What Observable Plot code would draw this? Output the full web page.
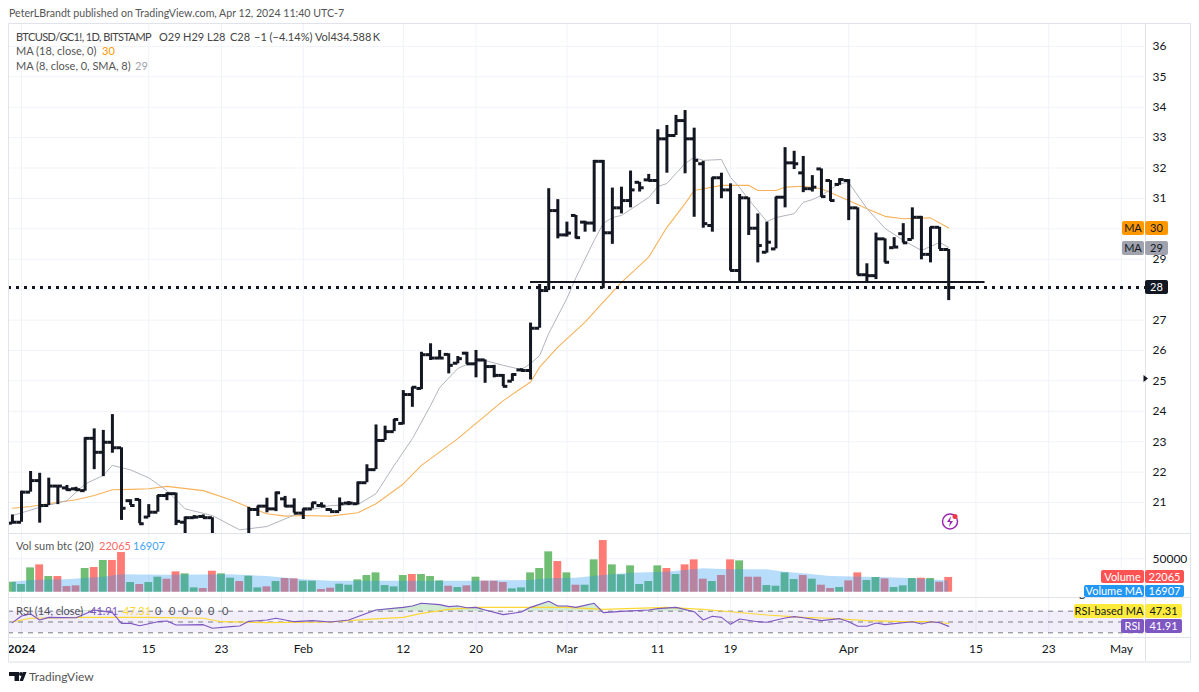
<!DOCTYPE html>
<html><head><meta charset="utf-8">
<script src="https://cdn.jsdelivr.net/npm/d3@7"></script>
<script src="https://cdn.jsdelivr.net/npm/@observablehq/plot@0.6"></script>
<style>
html,body{margin:0;padding:0;background:#fff;width:1199px;height:692px;overflow:hidden;font-family:Lato,sans-serif;color:#131722}
#stage{position:relative;width:1199px;height:692px}
#stage svg.pane{position:absolute;left:0;display:block;background:transparent}
.t{position:absolute;white-space:pre;font-size:11px;line-height:14px}
.box{position:absolute;font-size:11px;text-align:center;border-radius:2px;color:#fff;white-space:nowrap}
.line{position:absolute;background:#e0e3eb}
</style></head>
<body><div id="stage"></div>
<script>
// Bar days: index 0 is 2024-01-01, -1 is 2023-12-31
const opens=[20.32,20.35,21.34,21.72,20.90,21.54,21.48,21.45,21.39,23.11,
22.65,22.98,22.80,21.06,21.10,20.52,20.68,21.23,21.29,20.35,
20.50,20.54,20.50,19.85,19.50,19.60,19.80,20.77,20.88,20.79,
21.12,20.88,20.65,20.79,20.90,20.77,20.70,20.98,20.96,21.65,
22.08,23.04,23.33,23.60,24.55,24.75,25.86,25.75,25.87,25.58,
25.91,25.56,25.69,25.47,25.18,24.99,25.36,25.34,26.73,27.97,
30.60,29.80,30.44,30.22,30.19,32.22,29.87,30.69,30.93,31.53,
31.61,31.59,32.96,33.07,33.56,32.96,32.14,30.11,31.68,31.28,
28.63,31.02,30.02,29.23,29.34,31.04,32.17,31.84,31.32,31.97,
31.59,31.46,31.59,30.69,28.49,28.46,29.67,29.38,29.84,29.65,
30.38,29.16,30.05,29.32];
const highs=[20.59,21.37,22.02,21.96,21.80,21.54,21.56,21.50,23.13,23.42,
23.37,23.89,22.80,21.09,21.10,20.93,21.23,21.31,21.31,20.52,
20.57,20.59,20.50,19.90,19.80,19.90,20.84,20.88,21.14,21.34,
21.20,21.12,20.79,20.99,20.99,20.79,21.15,21.03,21.67,22.24,
23.55,23.51,23.73,24.68,24.79,25.94,26.22,26.00,25.89,25.80,
25.94,26.00,25.69,25.51,25.21,25.23,25.40,26.90,28.17,31.32,
30.96,30.22,30.44,30.25,32.25,32.25,31.34,31.37,31.90,31.53,
31.79,33.26,33.40,33.73,33.89,33.31,32.22,31.68,31.83,31.48,
31.13,31.02,30.49,30.22,31.04,32.67,32.55,32.38,31.75,31.97,
31.59,31.65,31.62,30.69,28.85,29.86,29.67,29.71,30.17,30.69,
30.41,30.05,30.05,29.32];
const lows=[20.30,20.35,21.34,20.32,20.90,20.93,21.37,21.37,21.37,22.08,
21.85,22.62,20.41,20.90,20.30,20.50,20.68,21.06,20.24,19.90,
20.46,20.48,19.70,19.40,19.30,19.50,19.70,20.54,20.66,20.70,
20.84,20.65,20.44,20.79,20.84,20.70,20.70,20.90,20.92,21.65,
22.08,23.04,23.33,23.55,24.13,24.71,25.67,25.73,25.23,25.56,
25.54,25.10,24.92,25.10,24.81,24.98,25.31,25.03,26.73,27.97,
29.67,29.73,29.67,29.89,29.89,28.03,29.49,30.49,30.69,31.21,
31.56,30.80,31.83,33.07,31.81,30.38,30.02,29.89,30.99,28.61,
28.24,29.78,28.88,29.20,29.34,30.69,31.95,31.19,31.21,31.04,
30.90,31.43,30.27,28.47,28.21,28.33,28.88,29.38,29.53,29.64,
28.98,28.88,29.32,27.64];
const closes=[20.35,21.34,21.72,20.90,21.54,21.54,21.42,21.42,23.11,22.65,
22.98,22.80,20.81,20.90,20.30,20.68,21.23,21.29,20.38,20.50,
20.52,20.50,19.85,19.50,19.60,19.80,20.77,20.88,20.79,21.32,
20.88,20.65,20.79,20.99,20.88,20.70,20.96,20.98,21.65,22.08,
23.04,23.33,23.73,24.55,24.79,25.86,25.75,25.75,25.51,25.73,
25.56,25.69,25.47,25.18,24.82,25.21,25.34,26.73,27.97,30.60,
29.80,29.86,29.71,30.19,32.22,29.87,30.69,30.93,31.28,31.35,
31.59,32.96,33.07,33.56,32.96,32.25,30.17,31.68,31.28,28.63,
31.02,30.02,29.45,29.56,31.04,32.17,32.14,31.32,31.37,31.06,
30.93,31.62,30.69,28.49,28.46,29.67,28.90,29.40,29.54,30.38,
29.16,30.05,29.32,28.07];
const volumes=[14970,11480,36430,40920,23450,23450,8480,9480,35430,36930,
47410,47410,59380,14470,11480,14470,22460,19460,30440,27450,
6490,5490,31440,27450,20960,15970,23950,6490,7980,15970,
20460,19960,16470,16470,3990,5990,11980,10480,18460,24950,
28940,9980,7980,24950,26450,26450,23450,16970,8980,6990,
9480,22460,16470,16470,14470,4990,6490,28940,35430,60380,
45910,28940,10480,10480,48400,77350,40920,25950,39420,11480,
15970,39420,35430,26450,40920,48400,19460,15970,24950,48400,
46910,22460,22460,9980,8980,28940,18960,24950,19460,10480,
5490,6990,16970,28940,17470,21960,19960,6990,9480,20460,
20960,20460,14970,22065];
const volumeColor=("gggrgrrrgr"+"grrgrggrrg"+"grrggrggrg"+"rrggrrgggg"+"ggggrgggrg"+
"rgrrrggggg"+"rgrggrgggg"+"ggrgrrrgrr"+"grrggggrgr"+"rgrrggrggg"+"rgrr").split("");
const maDays18=[-1,1,4,6,8,10,12,14,16,20,23,25,27,29,31,34,37,39,42,44,48,53,56,57,59,62,63,64,66,69,71,73,74,77,80,81,83,84,86,88,91,93,95,97,100,102];
const ma18=[20.81,20.87,21.01,21.09,21.23,21.42,21.43,21.45,21.53,21.39,21.09,20.84,20.63,20.55,20.57,20.55,20.66,20.96,21.61,22.22,23.10,24.35,24.96,25.45,26.11,26.93,27.26,27.59,28.24,29.07,30.05,30.83,31.26,31.43,31.43,31.26,31.26,31.37,31.40,31.32,30.93,30.66,30.41,30.33,30.36,30.03];
const maDays8=[-1,2,5,7,9,10,12,14,16,18,21,24,27,29,31,34,37,39,41,43,45,46,48,49,51,53,55,56,57,58,60,61,63,64,65,66,69,70,71,73,74,75,77,78,79,80,82,83,85,86,87,88,90,91,93,95,97,99,101,102];
const ma8=[20.57,20.84,21.06,21.61,21.89,22.22,22.07,21.81,21.39,20.79,20.57,20.10,20.21,20.46,20.71,20.90,20.93,21.29,22.22,23.10,24.19,24.78,25.41,25.54,25.67,25.51,25.37,25.57,25.83,26.56,27.71,28.40,29.62,30.18,30.37,30.44,31.03,31.39,31.49,32.15,32.35,32.25,32.28,31.69,31.36,30.96,30.24,30.37,30.50,30.87,30.96,31.10,31.49,31.52,30.67,30.01,29.62,29.29,29.55,29.39];
const volMaDays=[-1,1,5,9,11,16,23,27,31,34,38,42,46,49,53,56,58,61,64,67,71,75,78,82,84,86,89,93,97,100,102];
const volMa=[14970,17465,18460,22455,25950,25450,25950,23450,18460,16470,16470,16470,16470,16470,16970,17465,19960,20960,24950,28440,29940,34930,33430,33430,29940,27445,23450,22455,20960,18460,16907];
const rsiDays=[-1,0,1,2,3,6,8,10,11,12,13,15,16,17,20,21,23,24,25,27,28,30,32,34,36,38,39,42,43,44,46,47,48,49,50,51,53,55,56,58,59,60,61,63,64,66,69,70,72,74,75,76,77,78,79,81,82,84,85,86,88,90,91,92,93,94,95,98,99,100,101,102];
const rsi=[48.8,61.1,64.8,53.7,58.6,58.0,72.2,67.3,47.5,47.5,43.2,50.6,51.9,44.4,45.1,38.3,41.4,42.6,51.2,53.7,56.8,50.6,52.5,50,53.7,66,72.2,77.1,79.6,84.6,82.1,78.4,79.6,76.5,77.1,72.2,63.6,68.5,77.1,88.3,79.6,79.6,77.1,84.6,67.3,69.7,72.2,74.7,77.1,69.1,53.7,60.5,58.6,45.7,55.6,50.6,49.4,57.4,59.9,58,52.5,56.2,50.6,42,42,48.1,45.1,50.6,46.3,50.6,48.8,41.91];
const rsiMaDays=[-1,1,7,14,20,22,27,34,38,42,44,47,50,56,60,64,71,75,78,82,86,89,93,97,100,102];
const rsiMa=[50,56.8,58.6,58.6,56.8,50.6,48.8,50,54.9,58.6,66,73.4,77.1,77.1,77.1,73.4,77.1,73.4,69.1,63,58.6,56.8,52.5,50.6,50.6,47.31];
const rsiLevels=[70,50,30];
const tickDays=[0,14,22,31,42,50,60,70,78,91,105,113,121];
const tickLabels=["2024","15","23","Feb","12","20","Mar","11","19","Apr","15","23","May"];
const priceTicks=[21,22,23,24,25,26,27,28,29,30,31,32,33,34,35,36];
const priceLabels=[21,22,23,24,25,26,27,29,31,32,33,34,35,36];
const supportPrice=28.25, supportFrom=56, supportTo=106, lastClose=28.07;

const W=1199, ML=8, MR=54, FONT='Lato,sans-serif';
const xDomain=[-1.43,123.65];
const INK="#131722", GRID="#f0f3fa";
const days=opens.map((_,k)=>k-1);
const bars=days.map((d,k)=>({d,o:opens[k],h:highs[k],l:lows[k],c:closes[k]}));
const vols=days.map((d,k)=>({d,v:volumes[k],up:volumeColor[k]==="g"}));
const zip=(a,b)=>a.map((d,k)=>({d,v:b[k]}));
const base={width:W,marginLeft:ML,marginRight:MR,marginTop:0,marginBottom:0,
  x:{domain:xDomain,axis:null},style:{fontFamily:FONT,fontSize:"12px",background:"transparent",color:INK}};
const stage=document.getElementById("stage");
function pane(top,opts){const s=Plot.plot({...base,...opts});s.classList.add("pane");s.style.top=top+"px";stage.appendChild(s);return s;}

const vGrid=Plot.ruleX(tickDays,{stroke:GRID,strokeWidth:1});

pane(24,{height:509,y:{domain:[19.98,36.72]},marks:[
  vGrid,
  Plot.ruleY(priceTicks,{stroke:GRID,strokeWidth:1}),
  Plot.axisY({anchor:"right",ticks:priceLabels,tickSize:0,tickPadding:7,label:null,fontSize:12,tickFormat:d=>d}),
  Plot.line(zip(maDays18,ma18),{x:"d",y:"v",stroke:"#f7b25a",strokeWidth:1.1,clip:true}),
  Plot.line(zip(maDays8,ma8),{x:"d",y:"v",stroke:"#b2b5be",strokeWidth:1,clip:true}),
  Plot.ruleX(bars,{x:"d",y1:"l",y2:"h",stroke:INK,strokeWidth:3,clip:true,strokeLinecap:"butt"}),
  Plot.ruleY(bars,{y:"o",x1:d=>d.d-0.5,x2:"d",stroke:INK,strokeWidth:3,clip:true}),
  Plot.ruleY(bars,{y:"c",x1:"d",x2:d=>d.d+0.5,stroke:INK,strokeWidth:3,clip:true}),
  Plot.ruleY([supportPrice],{x1:supportFrom,x2:supportTo,stroke:INK,strokeWidth:2}),
  Plot.ruleY([lastClose],{stroke:INK,strokeWidth:3,strokeDasharray:"3,5"})
]});

pane(534,{height:63,y:{domain:[-7934,86377]},marks:[
  vGrid,
  Plot.ruleY([50000],{stroke:GRID}),
  Plot.axisY({anchor:"right",ticks:[50000],tickSize:0,tickPadding:7,label:null,fontSize:12,tickFormat:d=>String(d)}),
  Plot.rectY(vols,{x1:d=>d.d-0.43,x2:d=>d.d+0.43,y1:()=>0,y2:"v",fill:d=>d.up?"#70bd74":"#ff7b76"}),
  Plot.areaY(zip(volMaDays,volMa),{x:"d",y1:()=>0,y2:"v",fill:"#2196f3",fillOpacity:0.32})
]});

pane(598,{height:39,y:{domain:[21.3,93.5],axis:null},marks:[
  vGrid,
  Plot.rect([{a:30,b:70}],{x1:()=>xDomain[0],x2:()=>xDomain[1],y1:"a",y2:"b",fill:"#7e57c2",fillOpacity:0.1}),
  Plot.ruleY(rsiLevels,{stroke:"#787b86",strokeWidth:1,strokeDasharray:"5,5"}),
  Plot.areaY(zip(rsiDays,rsi),{x:"d",y1:()=>70,y2:d=>Math.max(d.v,70),fill:"#4caf50",fillOpacity:0.25}),
  Plot.line(zip(rsiMaDays,rsiMa),{x:"d",y:"v",stroke:"#fdd835",strokeWidth:1.1}),
  Plot.line(zip(rsiDays,rsi),{x:"d",y:"v",stroke:"#7e57c2",strokeWidth:1.1})
]});

const tickData=tickDays.map((d,k)=>({d,t:tickLabels[k]}));
pane(637,{height:24,y:{domain:[0,1],axis:null},marks:[
  Plot.text(tickData.slice(1),{x:"d",frameAnchor:"middle",text:"t",fill:INK,fontSize:12}),
  Plot.text(tickData.slice(0,1),{x:"d",frameAnchor:"middle",text:"t",fill:INK,fontSize:12,fontWeight:"bold"})
]});

// frame and pane dividers
function L(l,t,w,h,c){const e=document.createElement("div");e.className="line";e.style.cssText=`left:${l}px;top:${t}px;width:${w}px;height:${h}px`+(c?`;background:${c}`:"");stage.appendChild(e);}
L(8,23,1183,1);L(8,533,1183,1);L(8,597,1183,1);L(8,637,1183,1);L(8,661,1183,2,"#eceef2");
L(8,23,1,638);L(1190,23,1,638);L(1145,23,1,638);

function T(s,l,y,c,fs,extra){const e=document.createElement("div");e.className="t";e.textContent=s;e.style.cssText=`left:${l}px;top:${y-7}px;color:${c||INK}`+(fs?`;font-size:${fs}px`:"")+(extra?";"+extra:"");stage.appendChild(e);return e;}
function B(s,l,r,t,b,bg,c){const e=document.createElement("div");e.className="box";e.textContent=s;e.style.cssText=`left:${l}px;width:${r-l}px;top:${t}px;height:${b-t}px;line-height:${b-t}px;background:${bg};color:${c||"#fff"}`;stage.appendChild(e);}

T("PeterLBrandt published on TradingView.com, Apr 12, 2024 11:40 UTC-7",9,13,"#555",10.6);
T("BTCUSD/GC1!, 1D, BITSTAMP",16,37,"#444",null,"letter-spacing:-0.6px");
T("O29",159,37,"#444");T("H29",183,37,"#444");T("L28",207,37,"#444");T("C28",230,37,"#444");
T("\u22121 (\u22124.14%)",254,37,"#444");T("Vol434.588\u2009K",315,37,"#444");
T("MA (18, close, 0)",16,51,"#555");T("30",102,51,"#ff9800");
T("MA (8, close, 0, SMA, 8)",16,66,"#555");T("29",135,66,"#a0a3ab");
T("Vol sum btc (20)",16,546,"#555");T("22065",99,546,"#ff6a66");T("16907",133,546,"#42a5f5");
T("RSI (14, close)",16,611,"#50535e");T("41.91",90,611,"#7e57c2");T("47.31",123,611,"#fdd835");
[158,172,185,198,211,225].forEach(x=>T("0",x-3,611,"#50535e"));
// value-scale tags; the divergence label peeks out from under the volume tags, cut by the pane edge
const peek="clip-path:inset(11px 0 0 0)";
T("Regular Bearish",1067,593,INK,null,peek);T("50.27",1152,593,INK,null,peek);
B("MA",1122,1144,221,235,"#ff9800",INK);B("30",1145,1168,221,235,"#ff9800",INK);
B("MA",1122,1144,241,255,"#a0a3ad",INK);B("29",1145,1168,241,255,"#a0a3ad",INK);
B("28",1145,1168,280,294,INK,"#fff");
B("Volume",1101,1144,570,583,"#ff5252");B("22065",1145,1184,570,583,"#ff5252");
B("Volume MA",1084,1144,585,597,"#2196f3");B("16907",1145,1184,585,597,"#2196f3");
B("RSI-based MA",1074,1144,604,618,"#ffeb3b",INK);B("47.31",1145,1182,604,618,"#ffeb3b",INK);
B("RSI",1121,1144,619,633,"#7e57c2");B("41.91",1145,1182,619,633,"#7e57c2");

// decorations
const deco=document.createElement("div");
deco.innerHTML=`<svg style="position:absolute;left:0;top:0" width="1199" height="692">
<path d="M1143.5 375 L1148 378.5 L1143.5 382Z" fill="#131722"/>
<circle cx="950" cy="521.5" r="7.5" fill="#fff" stroke="#9c27b0" stroke-width="1.5"/>
<path d="M951 516 L947 522 L950 522 L949 527 L953 521 L950 521Z" fill="#9c27b0"/>
<circle cx="955" cy="516.5" r="2.5" fill="#f23645"/>
<g fill="#131722"><path d="M9 672 H19 V681 H14.5 V676 H9Z"/><circle cx="21" cy="674" r="2"/><path d="M19.5 681 L23 672 H26.5 L23 681Z"/></g>
</svg>`;
stage.appendChild(deco);
T("TradingView",29,677,"#555",12);
</script></body></html>
